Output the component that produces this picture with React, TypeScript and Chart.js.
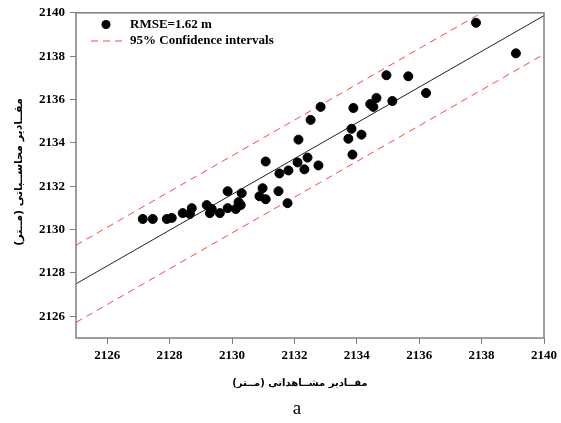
import { useEffect, useRef } from "react";
import { Chart, registerables } from "chart.js";

Chart.register(...registerables);

// Observed (x) and computed (y) elevations, metres
const observedX = [
  2127.14, 2127.46, 2127.91, 2128.07, 2128.42, 2128.65, 2128.71, 2129.19, 2129.29, 2129.35,
  2129.61, 2129.86, 2129.86, 2130.12, 2130.21, 2130.28, 2130.31, 2130.88, 2130.98, 2131.08,
  2131.08, 2131.49, 2131.52, 2131.78, 2131.81, 2132.10, 2132.13, 2132.32, 2132.42, 2132.52,
  2132.77, 2132.84, 2133.73, 2133.83, 2133.86, 2133.89, 2134.15, 2134.43, 2134.53, 2134.63,
  2134.95, 2135.14, 2135.65, 2136.22, 2137.82, 2139.10,
];
const computedY = [
  2130.49, 2130.49, 2130.49, 2130.54, 2130.76, 2130.72, 2130.99, 2131.13, 2130.76, 2130.95,
  2130.76, 2130.99, 2131.77, 2130.95, 2131.27, 2131.13, 2131.68, 2131.54, 2131.91, 2131.40,
  2133.14, 2131.77, 2132.59, 2131.22, 2132.73, 2133.10, 2134.15, 2132.78, 2133.32, 2135.06,
  2132.96, 2135.66, 2134.19, 2134.65, 2133.46, 2135.61, 2134.38, 2135.79, 2135.66, 2136.07,
  2137.12, 2135.93, 2137.07, 2136.30, 2139.54, 2138.13,
];

// Fitted line and 95% confidence bounds at the axis ends
const fitX = [2125, 2140];
const fitY = [2127.5, 2139.87];
const upperY = [2129.28, 2141.65];
const lowerY = [2125.72, 2138.09];

const xTicks = [2126, 2128, 2130, 2132, 2134, 2136, 2138, 2140];
const yTicks = [2126, 2128, 2130, 2132, 2134, 2136, 2138, 2140];

const legendRmse = "RMSE=1.62 m";
const legendBand = "95% Confidence intervals";
const xTitle = "مقــادیر مشــاهداتی (مــتر)";
const yTitle = "مقــادیر محاســباتی (مــتر)";
const caption = "a";

const SERIF = "'Liberation Serif', 'Times New Roman', serif";
const ARABIC = "'DejaVu Sans', sans-serif";
const FRAME = "#7f7f7f";
const RED = "#ff4444";

const decorations = {
  id: "decorations",
  afterDatasetsDraw(chart: any) {
    const { ctx, chartArea } = chart;
    const { left, right, top, bottom } = chartArea;
    ctx.save();

    // plot frame
    ctx.strokeStyle = FRAME;
    ctx.lineWidth = 1.5;
    ctx.strokeRect(left, top, right - left, bottom - top);

    // legend inside the plot
    ctx.fillStyle = "#000";
    ctx.beginPath();
    ctx.arc(106, 24.5, 4.5, 0, Math.PI * 2);
    ctx.fill();
    ctx.strokeStyle = RED;
    ctx.lineWidth = 1;
    ctx.setLineDash([7, 5]);
    ctx.beginPath();
    ctx.moveTo(91, 41);
    ctx.lineTo(124, 41);
    ctx.stroke();
    ctx.setLineDash([]);
    ctx.font = `bold 13px ${SERIF}`;
    ctx.textAlign = "left";
    ctx.textBaseline = "middle";
    ctx.fillText(legendRmse, 130, 25);
    ctx.fillText(legendBand, 130, 41);

    // axis titles
    ctx.direction = "rtl";
    ctx.textAlign = "center";
    ctx.font = `bold 10px ${ARABIC}`;
    ctx.fillText(xTitle, 300, 383);
    ctx.save();
    ctx.translate(19, 172);
    ctx.rotate(-Math.PI / 2);
    ctx.font = `bold 11px ${ARABIC}`;
    ctx.fillText(yTitle, 0, 0);
    ctx.restore();

    // panel caption
    ctx.direction = "ltr";
    ctx.font = `19px ${SERIF}`;
    ctx.fillText(caption, 297, 409);
    ctx.restore();
  },
};

export default function App() {
  const canvasRef = useRef<HTMLCanvasElement | null>(null);

  useEffect(() => {
    const canvas = canvasRef.current;
    if (!canvas) return;

    const points = observedX.map((x, i) => ({ x, y: computedY[i] }));
    const line = (ys: number[]) => fitX.map((x, i) => ({ x, y: ys[i] }));

    const tickFont = { family: SERIF, size: 13, weight: "bold" as const };
    const gridOpts = {
      drawOnChartArea: false,
      drawTicks: true,
      tickLength: 6,
      color: FRAME,
      tickWidth: 1,
    };
    const plain = (v: any) => String(v);

    const chart = new Chart(canvas, {
      type: "scatter",
      data: {
        datasets: [
          {
            label: legendRmse,
            data: points,
            backgroundColor: "#000",
            borderColor: "#000",
            pointRadius: 4.5,
            pointHoverRadius: 4.5,
            order: 0,
          },
          {
            label: "fit",
            data: line(fitY),
            showLine: true,
            borderColor: "#222",
            borderWidth: 1,
            pointRadius: 0,
            order: 1,
          },
          {
            label: legendBand,
            data: line(upperY),
            showLine: true,
            borderColor: RED,
            borderWidth: 1,
            borderDash: [7, 5],
            pointRadius: 0,
            order: 1,
          },
          {
            label: "lower",
            data: line(lowerY),
            showLine: true,
            borderColor: RED,
            borderWidth: 1,
            borderDash: [7, 5],
            pointRadius: 0,
            order: 1,
          },
        ],
      },
      options: {
        animation: false,
        responsive: false,
        events: [],
        layout: { padding: { top: 10, right: 16, left: 0, bottom: 0 } },
        plugins: {
          legend: { display: false },
          tooltip: { enabled: false },
        },
        scales: {
          x: {
            type: "linear",
            position: "bottom",
            min: 2125,
            max: 2140,
            afterBuildTicks: (s: any) => {
              s.ticks = xTicks.map((value) => ({ value }));
            },
            afterFit: (s: any) => {
              s.height = 85;
            },
            ticks: { font: tickFont, color: "#000", padding: 4, maxRotation: 0, callback: plain },
            grid: gridOpts,
            border: { display: false },
          },
          y: {
            type: "linear",
            min: 2125,
            max: 2140,
            afterBuildTicks: (s: any) => {
              s.ticks = yTicks.map((value) => ({ value }));
            },
            afterFit: (s: any) => {
              s.width = 76;
            },
            ticks: { font: tickFont, color: "#000", padding: 5, callback: plain },
            grid: gridOpts,
            border: { display: false },
          },
        },
      },
      plugins: [decorations],
    });

    return () => chart.destroy();
  }, []);

  return (
    <div style={{ position: "absolute", left: 0, top: 0, width: 561, height: 423, background: "#fff" }}>
      <canvas ref={canvasRef} width={561} height={423} />
    </div>
  );
}
